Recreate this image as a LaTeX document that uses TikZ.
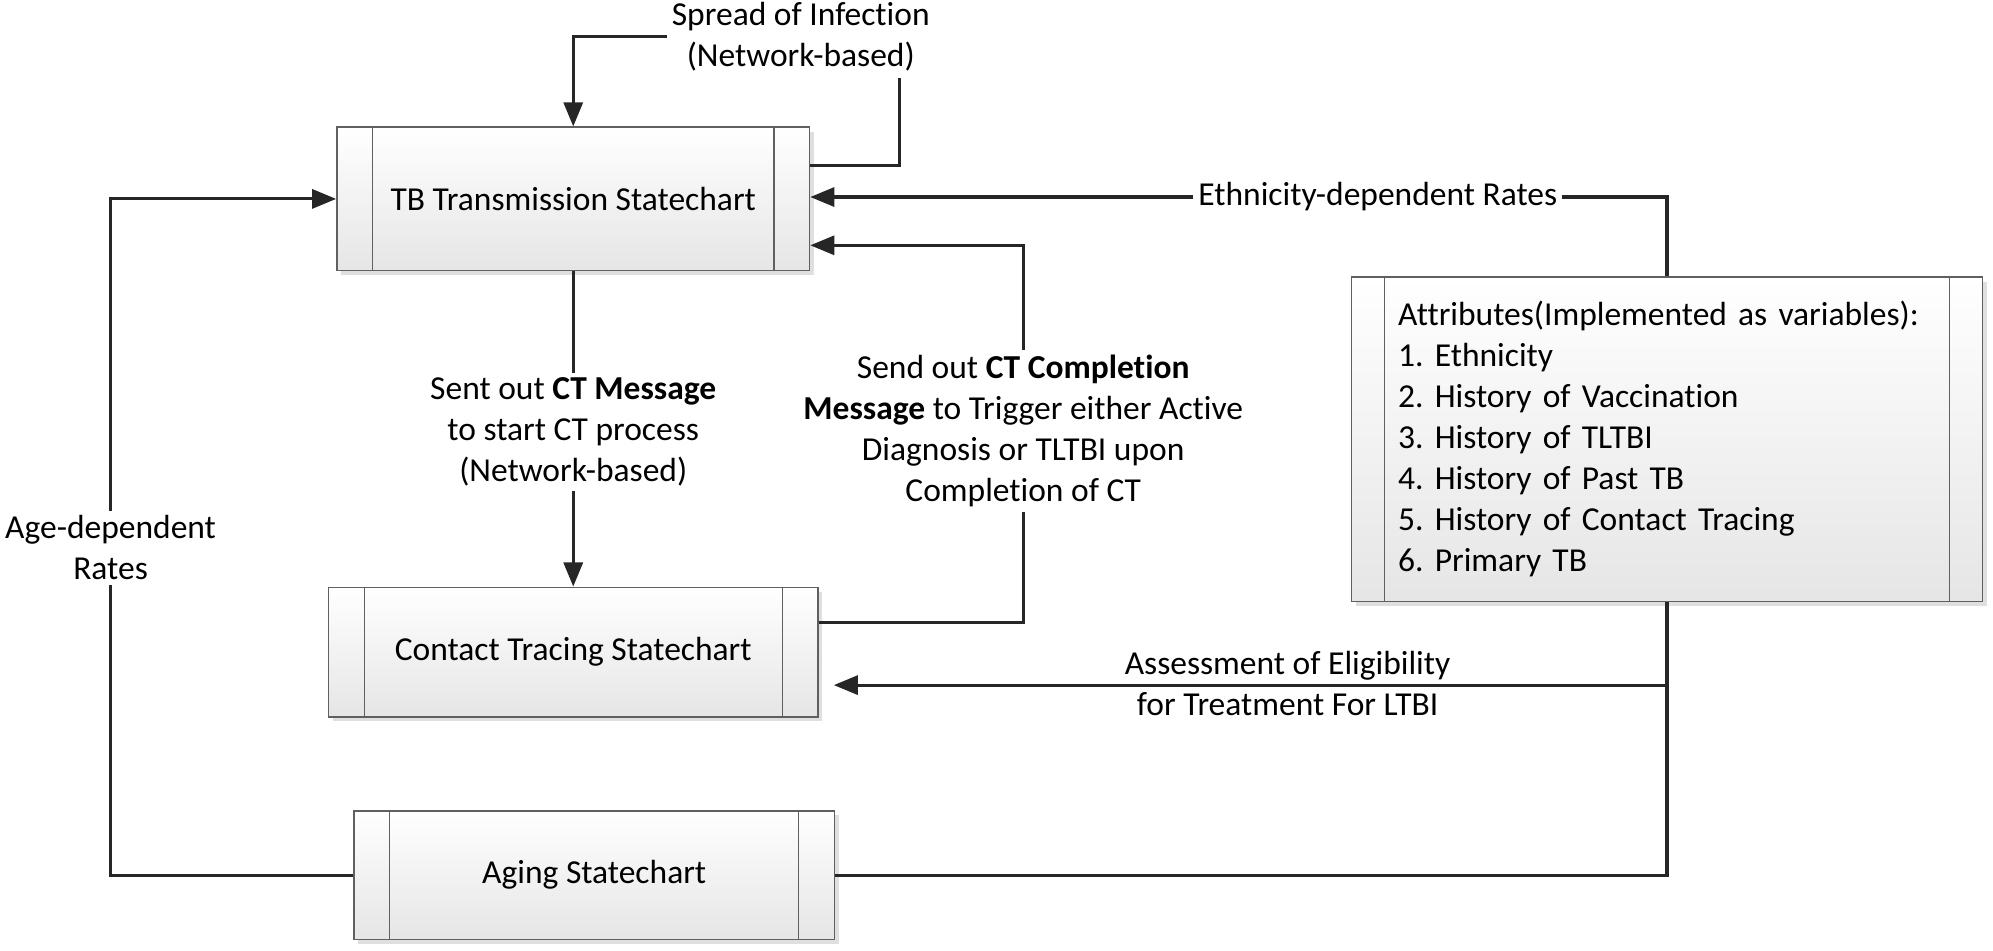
\documentclass[tikz,border=0pt]{standalone}
\usepackage{fontspec}
\setmainfont{Carlito}[Ligatures={NoCommon,NoRare,NoContextual}, Contextuals={NoAlternate}]
\usetikzlibrary{positioning, shadows, arrows.meta}
\newcommand\chartfont{\fontsize{15}{18.4}\selectfont}
\frenchspacing

\begin{document}
\begin{tikzpicture}[x=0.02cm, y=-0.02cm,
    statechart/.style={rectangle, draw=gray!75!black, line width=0.6pt,
        top color=white, bottom color=gray!20, inner sep=0pt, align=center, font=\chartfont,
        drop shadow={shadow xshift=0.07cm, shadow yshift=-0.07cm, opacity=0.25, fill=gray},
        path picture={
            \draw[gray!75!black, line width=0.6pt]
            ([xshift=#1]path picture bounding box.north west) -- ([xshift=#1]path picture bounding box.south west)
            ([xshift=-#1]path picture bounding box.north east) -- ([xshift=-#1]path picture bounding box.south east);
        }},
    statechart/.default=0.56cm,
    flow/.style={line width=1.4pt, draw=black!85},
    tip/.style={-{Triangle[length=0.38cm, width=0.3cm]}},
    note/.style={align=center, font=\chartfont, inner sep=2pt}
    ]
    \useasboundingbox (0,0) rectangle (1568,748);
    
    % the statecharts
    \node[statechart, minimum width=7.44cm, minimum height=2.26cm] (tb) at (451,156.5) {TB Transmission Statechart};
    \node[statechart, minimum width=7.7cm, minimum height=2.04cm, below=4.96cm of tb] (ct) {Contact Tracing Statechart};
    \node[statechart, minimum width=7.56cm, minimum height=2.02cm, below=1.46cm of ct, xshift=0.33cm] (aging) {Aging Statechart};
    \node[statechart=0.52cm, minimum width=9.94cm, minimum height=5.1cm, align=left, text width=8.46cm, inner xsep=0.74cm] (attr) at (1311.5,345.5)
    {Attributes(Implemented as variables):\\1. Ethnicity\\2. History of Vaccination\\3. History of TLTBI\\4. History of Past TB\\5. History of Contact Tracing\\6. Primary TB};
    
    % labels of the connectors
    \node[note] (spread) at (630,29) {Spread of Infection\\(Network-based)};
    \node[note] (msg) at (451,340) {Sent out \textbf{CT Message}\\to start CT process\\(Network-based)};
    \node[note] (done) at (805,339) {Send out \textbf{CT Completion}\\\textbf{Message} to Trigger either Active\\Diagnosis or TLTBI upon\\Completion of CT};
    \node[note] (eth) at (1084,155) {Ethnicity-dependent Rates};
    \node[note] (age) at (87,431) {Age-dependent\\Rates};
    \node[note] (ltbi) at (1013,538) {Assessment of Eligibility\\for Treatment For LTBI};
    
    % spread of infection
    \coordinate (sp) at (708,61);
    \draw[flow] ([yshift=0.53cm]tb.east) -| (sp);
    \draw[flow, tip] (spread.west) -| (tb.north);
    
    % contact tracing messages
    \draw[flow] (tb.south) -- (msg.north);
    \draw[flow, tip] (msg.south) -- (ct.north);
    \draw[flow] ([yshift=0.46cm]ct.east) -| (done.south);
    \draw[flow, tip] (done.north) |- ([yshift=-0.73cm]tb.east);
    
    % rates
    \draw[flow] (attr.north) |- (eth.east);
    \draw[flow, tip] (eth.west) -- (eth.west -| tb.east);
    \draw[flow] (aging.west) -| (age.south);
    \draw[flow, tip] (age.north) |- (tb.west);
    
    % eligibility for LTBI treatment
    \coordinate (jn) at (attr.south |- 0,539);
    \draw[flow] (attr.south) -- (jn);
    \draw[flow] (aging.east) -| (jn);
    \draw[flow, tip, shorten >=0.24cm] (jn) -- (jn -| ct.east);
    
\end{tikzpicture}
\end{document}
